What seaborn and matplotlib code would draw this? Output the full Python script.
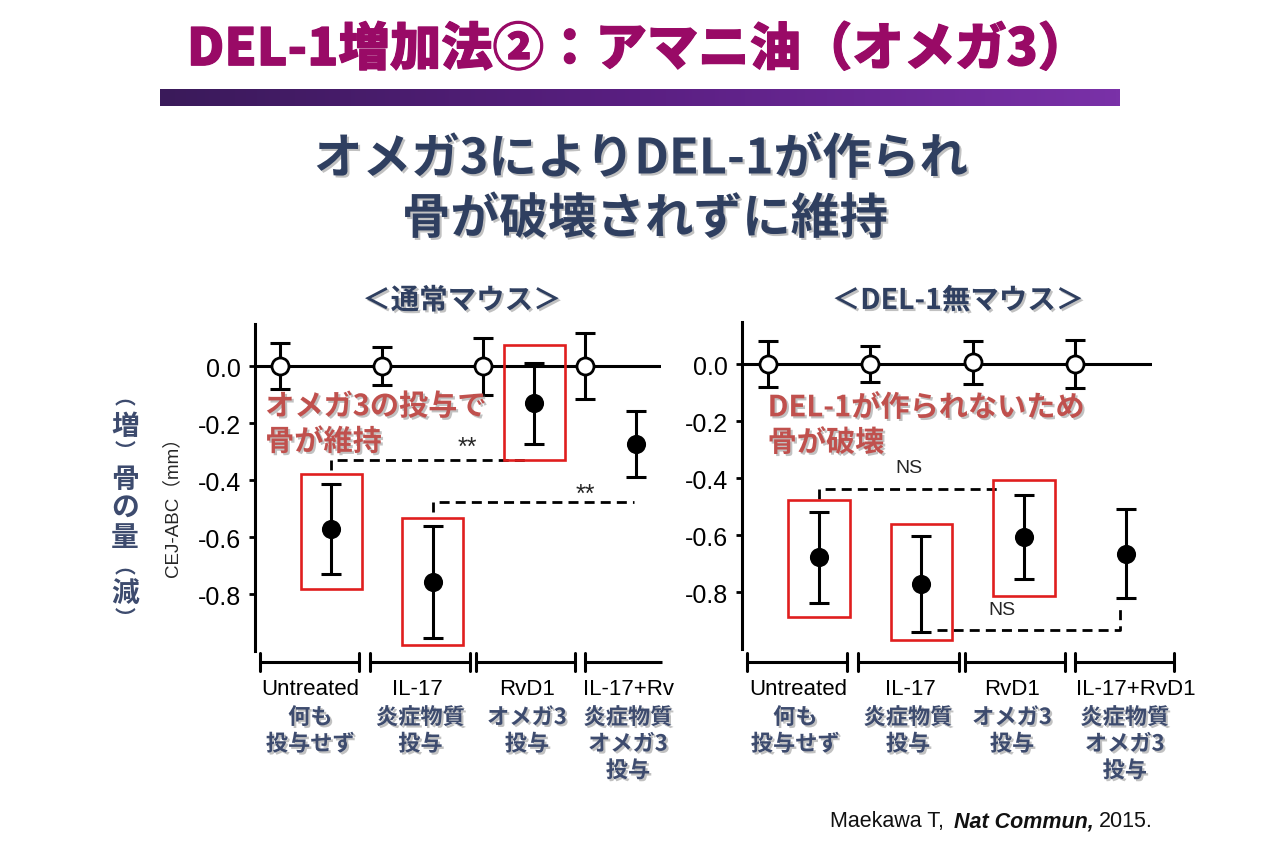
import numpy as np
import pandas as pd
import matplotlib
matplotlib.use("Agg")
import matplotlib.pyplot as plt
import matplotlib.patheffects as pe
import matplotlib.transforms as mtrans
from matplotlib.patches import Rectangle
from matplotlib.colors import LinearSegmentedColormap
from matplotlib import font_manager
import seaborn as sns

W, H = 1280, 853

groups = ["Untreated", "IL-17", "RvD1", "IL-17+RvD1"]
groups_jp = ["何も\n投与せず", "炎症物質\n投与", "オメガ3\n投与", "炎症物質\nオメガ3\n投与"]

# 通常マウス
wt_ctrl_mean = [0.0, 0.0, 0.0, 0.0]
wt_ctrl_err = [0.08, 0.067, 0.10, 0.117]
wt_mean = [-0.572, -0.757, -0.131, -0.275]
wt_err = [0.158, 0.197, 0.141, 0.116]

# DEL-1無マウス
ko_ctrl_mean = [0.0, 0.0, 0.006, 0.0]
ko_ctrl_err = [0.08, 0.064, 0.075, 0.085]
ko_mean = [-0.678, -0.771, -0.607, -0.665]
ko_err = [0.16, 0.168, 0.148, 0.157]

yticks = [0.0, -0.2, -0.4, -0.6, -0.8]

sns.set_theme(style="white")
plt.rcParams["font.family"] = ["Liberation Sans", "Noto Sans CJK JP", "DejaVu Sans"]

JP = ["Noto Sans CJK JP", "DejaVu Sans"]
names = {f.name for f in font_manager.fontManager.ttflist}
if "Liberation Sans Narrow" in names:
    NARROW, NARROW_SIZE = "Liberation Sans Narrow", 19
else:
    NARROW, NARROW_SIZE = "Liberation Sans", 16

navy = "#2f3f60"
red_txt = "#c0504d"
red_box = "#e01e1e"
shadow = [pe.withSimplePatchShadow(offset=(1.5, -1.5), shadow_rgbFace="#777777", alpha=0.45)]


def fx(px):
    return px / W


def fy(py):
    return 1 - py / H


fig = plt.figure(figsize=(W / 100, H / 100), dpi=100)
bg = fig.add_axes([0, 0, 1, 1])
bg.set_xlim(0, 1)
bg.set_ylim(0, 1)
bg.axis("off")

# title + gradient bar
title_col = "#990a66"
bg.text(fx(638), fy(51), "DEL-1増加法②：アマニ油（オメガ3）", ha="center", va="center",
        fontsize=37, fontweight="heavy", color=title_col, family=JP,
        path_effects=[pe.withStroke(linewidth=0.8, foreground=title_col)])
bar_ax = fig.add_axes([fx(160), fy(107), 960 / W, 17 / H])
cmap = LinearSegmentedColormap.from_list("bar", ["#3a1a5a", "#5a1f82", "#7a31a8"])
bar_ax.imshow(np.linspace(0, 1, 256)[None, :], aspect="auto", cmap=cmap)
bar_ax.axis("off")

bg.text(fx(641), fy(160), "オメガ3によりDEL-1が作られ", ha="center", va="center",
        fontsize=35, fontweight="bold", color=navy, family=JP, path_effects=shadow)
bg.text(fx(645), fy(220), "骨が破壊されずに維持", ha="center", va="center",
        fontsize=35, fontweight="bold", color=navy, family=JP, path_effects=shadow)

bg.text(fx(462), fy(302), "＜通常マウス＞", ha="center", va="center",
        fontsize=20.5, fontweight="bold", color=navy, family=JP, path_effects=shadow)
bg.text(fx(958), fy(302), "＜DEL-1無マウス＞", ha="center", va="center",
        fontsize=20.5, fontweight="bold", color=navy, family=JP, path_effects=shadow)

# vertical side label (vertical-form brackets sit off-centre in their em box)
side = [("︵", 398, 15), ("増", 427, 20), ("︶", 452, 15), ("骨", 480, 20), ("の", 508, 20),
        ("量", 538, 20), ("︵", 567, 15), ("減", 594, 20), ("︶", 619, 15)]
for ch, py, fs in side:
    bg.text(fx(125), fy(py), ch, ha="center", va="center", fontsize=fs,
            fontweight="bold", color="#3d4b6e", family=JP)

bg.text(fx(172), fy(503), "CEJ-ABC（mm）", ha="center", va="center", rotation=90, fontsize=13.5)


def draw_panel(ax, ctrl_m, ctrl_e, trt_m, trt_e, eng_x, jp_x, clip_right=False):
    df = pd.DataFrame({
        "x": [2 * i for i in range(4)] + [2 * i + 1 for i in range(4)],
        "mean": ctrl_m + trt_m,
        "err": ctrl_e + trt_e,
        "kind": ["ctrl"] * 4 + ["trt"] * 4,
    })
    ax.axhline(0, color="black", lw=2.2, zorder=1)
    ax.errorbar(df["x"], df["mean"], yerr=df["err"], fmt="none", ecolor="black",
                elinewidth=2.2, capsize=7.5, capthick=2.2, zorder=2)
    sns.scatterplot(data=df[df["kind"] == "ctrl"], x="x", y="mean", ax=ax, s=150,
                    marker="o", facecolor="white", edgecolor="black", linewidth=2.0,
                    zorder=3, legend=False)
    sns.scatterplot(data=df[df["kind"] == "trt"], x="x", y="mean", ax=ax, s=190,
                    marker="o", color="black", edgecolor="black", linewidth=0,
                    zorder=3, legend=False)
    ax.set_xlim(-0.5, 7.5)
    ax.set_ylim(-1.0, 0.146)
    ax.set_xticks([])
    ax.set_yticks(yticks)
    ax.set_yticklabels([f"{v:.1f}" for v in yticks])
    ax.tick_params(axis="y", length=4, width=2, direction="out", pad=6,
                   labelsize=18, colors="black", left=True)
    ax.set_xlabel("")
    ax.set_ylabel("")
    sns.despine(ax=ax, bottom=True)
    ax.spines["left"].set_linewidth(2.2)
    ax.spines["left"].set_color("black")
    ax.patch.set_alpha(0)

    # group brackets under the axis
    tr = mtrans.blended_transform_factory(ax.transData, fig.transFigure)
    brackets = [(-0.4, 1.54), (1.77, 3.73), (3.85, 5.8), (6.0, 7.92)]
    for x0, x1 in brackets:
        x1c = min(x1, 7.52) if clip_right else x1
        ax.plot([x0, x1c], [fy(663), fy(663)], color="black", lw=2.2, transform=tr,
                clip_on=False, solid_capstyle="butt")
        ends = [x0] if x1c < x1 else [x0, x1]
        for xe in ends:
            ax.plot([xe, xe], [fy(654), fy(672)], color="black", lw=2.2, transform=tr,
                    clip_on=False)
    for i, g in enumerate(groups):
        if clip_right and i == 3:
            ax.text(5.96, fy(690), "IL-17+Rv", transform=tr, ha="left", va="center",
                    fontsize=NARROW_SIZE, family=NARROW, color="black")
        else:
            ax.text(eng_x[i], fy(690), g, transform=tr, ha="center", va="center",
                    fontsize=NARROW_SIZE, family=NARROW, color="black")
        ax.text(jp_x[i], fy(707), groups_jp[i], transform=tr, ha="center", va="top",
                fontsize=16, fontweight="bold", color="#3d4b6e", family=JP,
                linespacing=1.2, path_effects=shadow)


dash = (0, (3.6, 2.2))

# left panel
axL = fig.add_axes([fx(255), fy(652), 406 / W, 326.6 / H])
draw_panel(axL, wt_ctrl_mean, wt_ctrl_err, wt_mean, wt_err,
           [0.59, 2.7, 4.86, 7.0], [0.59, 2.76, 4.86, 6.85], clip_right=True)
for xc, yt, yb in [(1, -0.379, -0.782), (3, -0.533, -0.98), (5, 0.075, -0.33)]:
    axL.add_patch(Rectangle((xc - 0.6, yb), 1.2, yt - yb, fill=False, ec=red_box,
                            lw=1.9, zorder=2.5, clip_on=False))
axL.plot([1, 1, 4.92], [-0.365, -0.33, -0.33], color="black", lw=2.0, ls=dash)
axL.plot([3, 3, 6.97], [-0.513, -0.478, -0.478], color="black", lw=2.0, ls=dash)
axL.text(3.68, -0.283, "**", ha="center", va="center", fontsize=18)
axL.text(6.0, -0.448, "**", ha="center", va="center", fontsize=18)
axL.text(-0.3, -0.141, "オメガ3の投与で", ha="left", va="center", fontsize=21,
         fontweight="bold", color=red_txt, family=JP, path_effects=shadow, zorder=4)
axL.text(-0.3, -0.265, "骨が維持", ha="left", va="center", fontsize=21,
         fontweight="bold", color=red_txt, family=JP, path_effects=shadow, zorder=4)

# right panel
axR = fig.add_axes([fx(742), fy(650), 410 / W, 326.6 / H])
draw_panel(axR, ko_ctrl_mean, ko_ctrl_err, ko_mean, ko_err,
           [0.59, 2.78, 4.77, 7.19], [0.54, 2.74, 4.77, 6.97])
for xc, yt, yb in [(1, -0.478, -0.888), (3, -0.563, -0.97), (5, -0.407, -0.813)]:
    axR.add_patch(Rectangle((xc - 0.6, yb), 1.2, yt - yb, fill=False, ec=red_box,
                            lw=1.9, zorder=2.5, clip_on=False))
axR.plot([1, 1, 4.54], [-0.475, -0.438, -0.438], color="black", lw=2.0, ls=dash)
axR.plot([3.3, 6.88, 6.88], [-0.933, -0.933, -0.858], color="black", lw=2.0, ls=dash)
axR.text(2.76, -0.363, "NS", ha="center", va="center", fontsize=14)
axR.text(4.58, -0.863, "NS", ha="center", va="center", fontsize=14)
axR.text(0.0, -0.152, "DEL-1が作られないため", ha="left", va="center", fontsize=21,
         fontweight="bold", color=red_txt, family=JP, path_effects=shadow, zorder=4)
axR.text(0.0, -0.275, "骨が破壊", ha="left", va="center", fontsize=21,
         fontweight="bold", color=red_txt, family=JP, path_effects=shadow, zorder=4)

# citation
c1 = bg.text(fx(830), fy(822), "Maekawa T,", ha="left", va="center", fontsize=15.5,
             color="#111111")
c2 = bg.annotate("Nat Commun,", xy=(1, 0), xycoords=c1, xytext=(7, 0),
                 textcoords="offset points", ha="left", va="bottom", fontsize=15.5,
                 fontweight="bold", fontstyle="italic", color="#111111")
bg.annotate("2015.", xy=(1, 0), xycoords=c2, xytext=(4, 0), textcoords="offset points",
            ha="left", va="bottom", fontsize=15.5, color="#111111")

fig.savefig("out.png", dpi=100, facecolor="white")
